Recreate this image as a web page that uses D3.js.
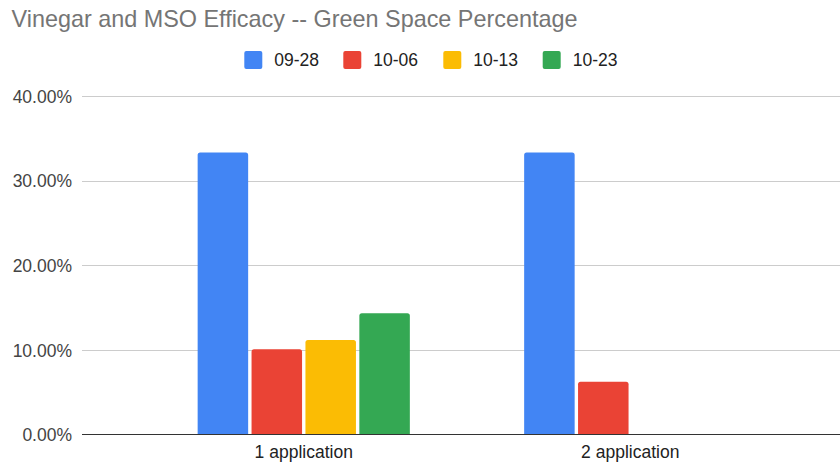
<!DOCTYPE html>
<html>
<head>
<meta charset="utf-8">
<script src="https://cdn.jsdelivr.net/npm/d3@7"></script>
<style>
  html, body { margin: 0; padding: 0; background: #fff; }
  svg { display: block; font-family: Arial, "Liberation Sans", sans-serif; }
</style>
</head>
<body>
<svg id="chart" width="840" height="463"></svg>
<script>
const title = "Vinegar and MSO Efficacy -- Green Space Percentage";
const categories = ["1 application", "2 application"];
const seriesNames = ["09-28", "10-06", "10-13", "10-23"];
const seriesColors = ["#4285F4", "#EA4335", "#FBBC04", "#34A853"];
const values = {
  "09-28": [0.3333, 0.3333],
  "10-06": [0.1007, 0.0622],
  "10-13": [0.1117, 0],
  "10-23": [0.1433, 0]
};
const yTicks = [0, 0.1, 0.2, 0.3, 0.4];

const FONT = "Arial, 'Liberation Sans', sans-serif";
const svg = d3.select("#chart");
const plotLeft = 82, plotRight = 840, plotTop = 96, plotBottom = 434.5;

const y = d3.scaleLinear().domain([0, 0.4]).range([plotBottom, plotTop]);
const x = d3.scaleBand().domain(categories).range([140.5, 793.5]).padding(0);
const groupW = 212.2;
const xs = d3.scaleBand().domain(seriesNames).range([0, groupW]).paddingInner(0.063).paddingOuter(0);

// title
svg.append("text").attr("x", 11.5).attr("y", 27)
  .attr("fill", "#757575").attr("font-size", 23.4).text(title);

// legend
const legendX = [244.3, 343.3, 443.3, 542.7];
const lg = svg.append("g");
seriesNames.forEach((s, i) => {
  lg.append("rect").attr("x", legendX[i]).attr("y", 51).attr("width", 18).attr("height", 18)
    .attr("rx", 2).attr("fill", seriesColors[i]);
  lg.append("text").attr("x", legendX[i] + 30).attr("y", 66)
    .attr("font-size", 17.5).attr("fill", "#222").text(s);
});

// y axis labels
const yAxis = d3.axisLeft(y).tickValues(yTicks).tickFormat(d3.format(".2%")).tickSize(0).tickPadding(10);
const ga = svg.append("g").attr("transform", `translate(${plotLeft},0)`).call(yAxis);
ga.select(".domain").remove();
ga.selectAll("text").attr("font-size", 17.5).attr("fill", "#444").attr("font-family", FONT).attr("dy", "0.36em");

// gridlines
svg.append("g").selectAll("line").data(yTicks.filter(d => d > 0)).join("line")
  .attr("x1", plotLeft).attr("x2", plotRight)
  .attr("y1", d => Math.round(y(d)) + 0.5).attr("y2", d => Math.round(y(d)) + 0.5)
  .attr("stroke", "#ccc").attr("stroke-width", 1);

// bars
function topRounded(x0, y0, w, h, r) {
  if (h <= 0) return "";
  r = Math.min(r, h, w / 2);
  return `M${x0},${y0 + h}V${y0 + r}Q${x0},${y0} ${x0 + r},${y0}H${x0 + w - r}Q${x0 + w},${y0} ${x0 + w},${y0 + r}V${y0 + h}Z`;
}
const barData = [];
categories.forEach((c, ci) => {
  seriesNames.forEach((s, si) => {
    barData.push({ c, s, v: values[s][ci], color: seriesColors[si] });
  });
});
const off = (x.bandwidth() - groupW) / 2;
svg.append("g").selectAll("path").data(barData).join("path")
  .attr("d", d => {
    const x0 = x(d.c) + off + xs(d.s);
    return topRounded(x0, y(d.v), xs.bandwidth(), y(0) - y(d.v), 2.5);
  })
  .attr("fill", d => d.color);

// x axis
const xAxis = d3.axisBottom(x).tickSize(0).tickPadding(11);
const gx = svg.append("g").attr("transform", `translate(0,${plotBottom})`).call(xAxis);
gx.select(".domain").remove();
gx.selectAll("text").attr("font-size", 17.5).attr("fill", "#222").attr("font-family", FONT);
svg.append("line").attr("x1", plotLeft).attr("x2", plotRight)
  .attr("y1", plotBottom).attr("y2", plotBottom).attr("stroke", "#333").attr("stroke-width", 1.2);
</script>
</body>
</html>
